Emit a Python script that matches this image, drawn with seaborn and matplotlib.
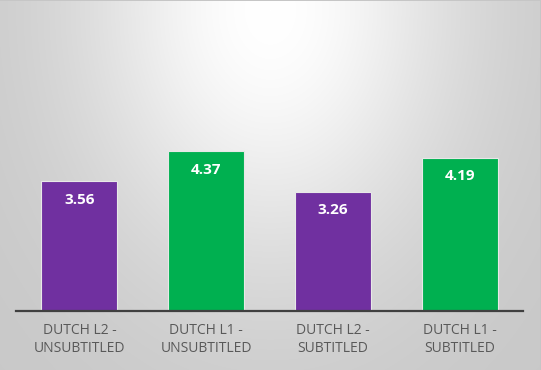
import numpy as np
import pandas as pd
import matplotlib
matplotlib.use("Agg")
import matplotlib.pyplot as plt
import seaborn as sns

# --- veriler ---
categories = ["DUTCH L2 -\nUNSUBTITLED", "DUTCH L1 -\nUNSUBTITLED",
              "DUTCH L2 -\nSUBTITLED", "DUTCH L1 -\nSUBTITLED"]
scores = [3.56, 4.37, 3.26, 4.19]
bar_colors = ["#7030A0", "#00B050", "#7030A0", "#00B050"]

df = pd.DataFrame({"group": categories, "score": scores})

sns.set_style("white")
plt.rcParams["font.family"] = ["Open Sans", "DejaVu Sans"]

W, H = 541, 370
fig = plt.figure(figsize=(W / 100, H / 100), dpi=100)

# arka plan: ust ortadan yayilan acik gri gradyan
bg = fig.add_axes([0, 0, 1, 1], zorder=0)
yy, xx = np.mgrid[0:H, 0:W]
d = np.sqrt(((xx - 270) / 270.0) ** 2 + ((yy - 10) / 360.0) ** 2)
shade = (255 - 55 * (1 - np.exp(-(d / 0.7) ** 2))) / 255.0
shade[0, :] = 0.78   # ince cerceve (ust ve sag kenar)
shade[:, -1] = 0.78
bg.imshow(np.dstack([shade, shade, shade]), aspect="auto", extent=[0, 1, 0, 1],
          interpolation="nearest")
bg.set_axis_off()

ax = fig.add_axes([16 / W, 59 / H, 507 / W, 291 / H], zorder=1)
ax.patch.set_alpha(0)
sns.barplot(data=df, x="group", y="score", hue="group", palette=bar_colors,
            legend=False, width=0.6, edgecolor="#e8e8e8", linewidth=0.8,
            saturation=1, ax=ax)

ax.set_xlim(-0.5, 3.5)
ax.set_ylim(0, 291 / 36.6)

for bar, val in zip(ax.patches, scores):
    ax.annotate(f"{val:.2f}", (bar.get_x() + bar.get_width() / 2, bar.get_height()),
                xytext=(0, -8.5), textcoords="offset points", ha="center", va="top",
                color="white", fontsize=11, fontweight="bold")

for side in ["top", "left", "right"]:
    ax.spines[side].set_visible(False)
ax.spines["bottom"].set_color("#404040")
ax.spines["bottom"].set_linewidth(1.6)
ax.set_yticks([])
ax.set_xlabel("")
ax.set_ylabel("")
ax.tick_params(axis="x", length=0, pad=9, labelsize=10, labelcolor="#595959")

fig.savefig("out.png", dpi=100)
